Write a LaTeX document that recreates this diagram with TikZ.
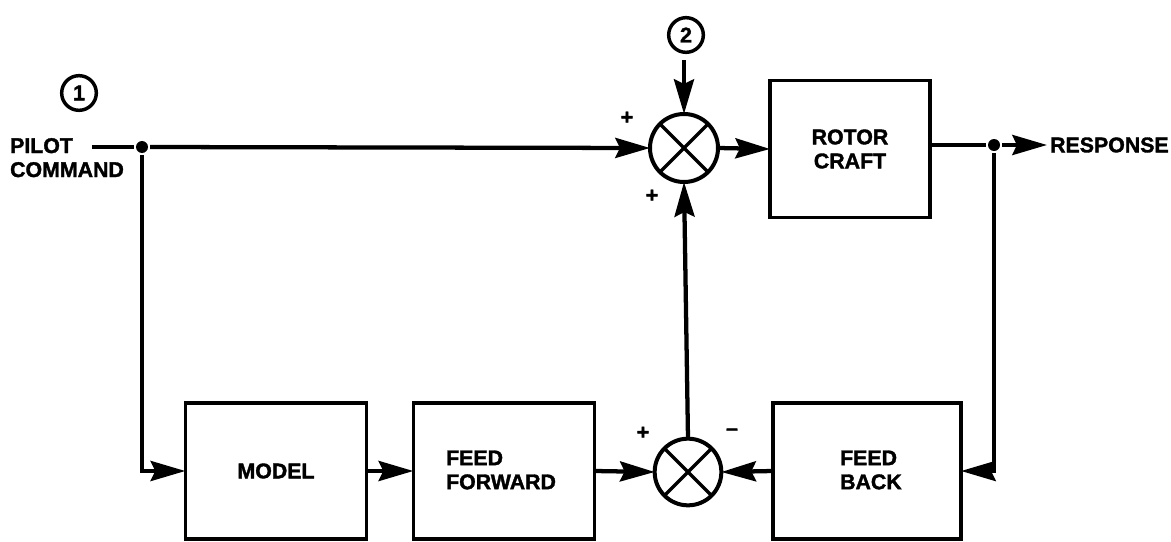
\documentclass[tikz,border=0pt]{standalone}
\usepackage{fontspec}
\setmainfont{Liberation Sans}[BoldFeatures={FakeBold=1.6}]
\usetikzlibrary{arrows.meta}
\begin{document}
\begin{tikzpicture}[x=0.75pt,y=-0.75pt,
  font=\fontsize{16}{17}\selectfont\bfseries,
  line width=3.2pt,
  blk/.style={draw,line width=2.4pt,rectangle,inner sep=0pt,outer sep=0pt,align=center},
  sumj/.style={draw,circle,line width=3pt,minimum size=51pt,inner sep=0pt,outer sep=0pt},
  numc/.style={draw,circle,line width=2.6pt,minimum size=26pt,inner sep=0pt,outer sep=0pt},
  arr/.style={-{Stealth[length=26pt,width=15pt,inset=3.5pt]}},
  dot/.style={circle,fill,inner sep=0pt,minimum size=9pt}]
\useasboundingbox (0,0) rectangle (1171,542);
% circled numbers
\node[numc] (n1) at (79,93) {1};
\node[numc] (n2) at (686,35) {2};
% labels
\node[anchor=north west,align=left,inner sep=0pt] (pc) at (8,136) {PILOT\\[1pt]COMMAND};
\coordinate (pstart) at (92,147);
% blocks
\node[blk,minimum width=120pt,minimum height=103pt] (rc) at (850,149) {ROTOR\\[1pt]CRAFT};
\node[blk,minimum width=136pt,minimum height=102pt] (model) at (276,471) {MODEL};
\node[blk,minimum width=136pt,minimum height=102pt] (ff) at (504,471) {};
\node[anchor=west,align=left,inner sep=0pt] (fft) at (444,470) {FEED\\[1pt]FORWARD};
\node[blk,minimum width=141pt,minimum height=102pt] (fb) at (867,471) {};
\node[anchor=west,align=left,inner sep=0pt] (fbt) at (838,470) {FEED\\[1pt]BACK};
% summing junctions
\node[sumj] (s1) at (684,148) {};
\draw[line width=2.4pt] (s1.north west) -- (s1.south east) (s1.north east) -- (s1.south west);
\node[sumj,minimum size=50pt] (s2) at (688,472) {};
\draw[line width=2.4pt] (s2.north west) -- (s2.south east) (s2.north east) -- (s2.south west);
% junction dots
\node[dot] (j1) at (142,147) {};
\node[dot] (j2) at (994,145) {};
\coordinate (resp) at (1047,145);
\node[anchor=west,inner sep=0pt] (rt) at (1048,145) {RESPONSE};
% connectors
\draw (pstart) -- (j1);
\draw[arr] (j1) -- (s1.west);
\draw[arr] (j1) |- (model.west);
\draw[arr] (model.east) -- (ff.west);
\draw[arr] (ff.east) -- (s2.west);
\draw[arr] (fb.west) -- (s2.east);
\draw[arr] (s2.north) -- (s1.south);
\draw[arr] (s1.north |- n2.south) ++(0,8) -- (s1.north);
\draw[arr] (s1.east) -- (rc.west);
\draw (rc.east |- j2) -- (j2);
\draw[arr] (j2) -- (resp);
\draw[arr] (j2) |- (fb.east);
% signs
\node[inner sep=0pt] (p1) at (627,118) {+};
\node[inner sep=0pt] (p2) at (652,196) {+};
\node[inner sep=0pt] (p3) at (643,433) {+};
\node[inner sep=0pt] (m1) at (732,432) {--};
\end{tikzpicture}
\end{document}
